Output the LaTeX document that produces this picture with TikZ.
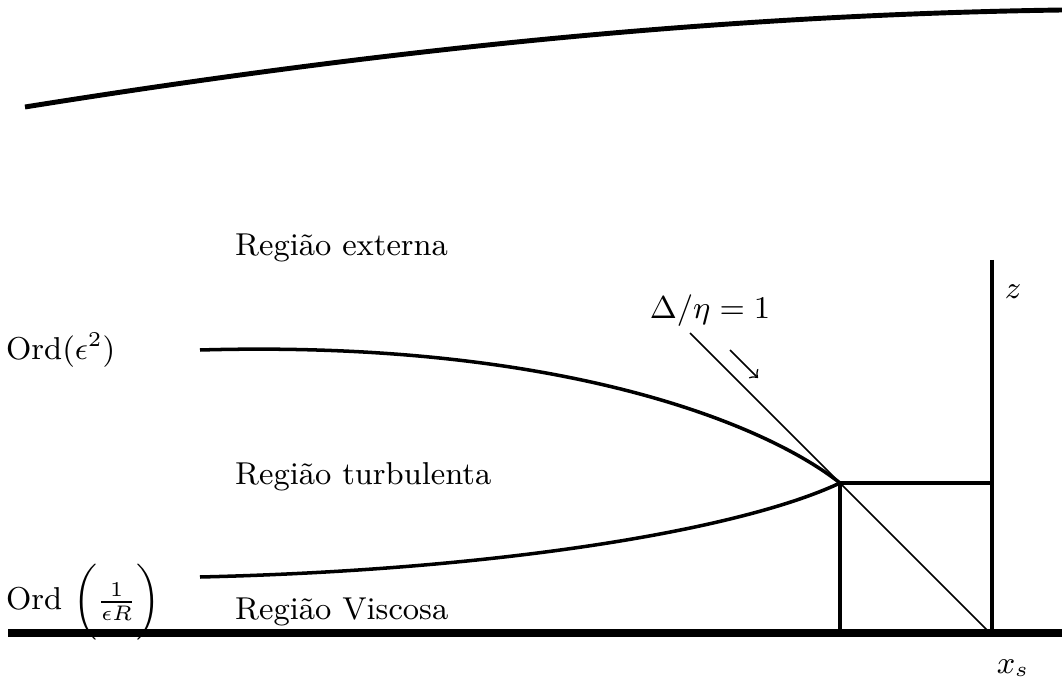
\documentclass[tikz,border=0pt]{standalone}
\usepackage{amsmath,amssymb}
\usetikzlibrary{arrows.meta}
\usetikzlibrary{positioning}

\begin{document}
\begin{tikzpicture}[
    every node/.style={font=\small, inner sep=1pt},
    wall/.style={line width=2.3pt},
    edge line/.style={line width=1.4pt},
    layer line/.style={line width=1.0pt},
    box line/.style={line width=1.1pt},
    thin line/.style={line width=0.45pt},
  ]
  \useasboundingbox (0,0) rectangle (10.62,6.81);

  % Points
  \coordinate (t0) at (0.25,5.74);
  \coordinate (t1) at (10.62,6.71);
  \coordinate (u0) at (2.00,3.31);
  \coordinate (l0) at (2.00,1.04);
  \coordinate (k)  at (8.40,1.98);   % corner
  \coordinate (kb) at (8.40,0.48);
  \coordinate (zt) at (9.92,4.21);
  \coordinate (zb) at (9.92,0.48);
  \coordinate (zk) at (9.92,1.98);
  \coordinate (d0) at (6.90,3.48);
  \coordinate (d1) at (9.90,0.48);
  \coordinate (a0) at (7.30,3.31);
  \coordinate (a1) at (7.58,3.03);
  \coordinate (g0) at (0.08,0.48);
  \coordinate (g1) at (10.62,0.48);

  % Labels
  \node[anchor=west] (ext)  at (2.31,4.33) {Regi\~ao externa};
  \node[anchor=west] (turb) at (2.31,2.04) {Regi\~ao turbulenta};
  \node[anchor=west] (visc) at (2.31,0.69) {Regi\~ao Viscosa};
  \node[anchor=west] (ord1) at (0.02,3.31) {Ord$(\epsilon^2)$};
  \node[anchor=west] (ord2) at (0.02,0.79) {Ord $\biggl(\frac{1}{\epsilon R}\biggr)$};
  \node (delta) at (7.10,3.70) {$\Delta/\eta=1$};
  \node (z)  at (10.13,3.89) {$z$};
  \node (xs) at (10.13,0.13) {$x_s$};

  % Outer edge
  \draw[edge line] (t0) .. controls (3.75,6.30) and (7.12,6.66) .. (t1);

  % Layer boundaries
  \draw[layer line] (u0) .. controls (5.50,3.41) and (7.60,2.61) .. (k);
  \draw[layer line] (l0) .. controls (5.00,1.11) and (7.40,1.51) .. (k);

  % Box and axis
  \draw[box line] (k) -- (zk);
  \draw[box line] (k) -- (kb);
  \draw[box line] (zt) -- (zb);

  % Diagonal
  \draw[thin line] (d0) -- (d1);
  \draw[thin line, -to] (a0) -- (a1);

  % Wall
  \draw[wall] (g0) -- (g1);

\end{tikzpicture}
\end{document}
